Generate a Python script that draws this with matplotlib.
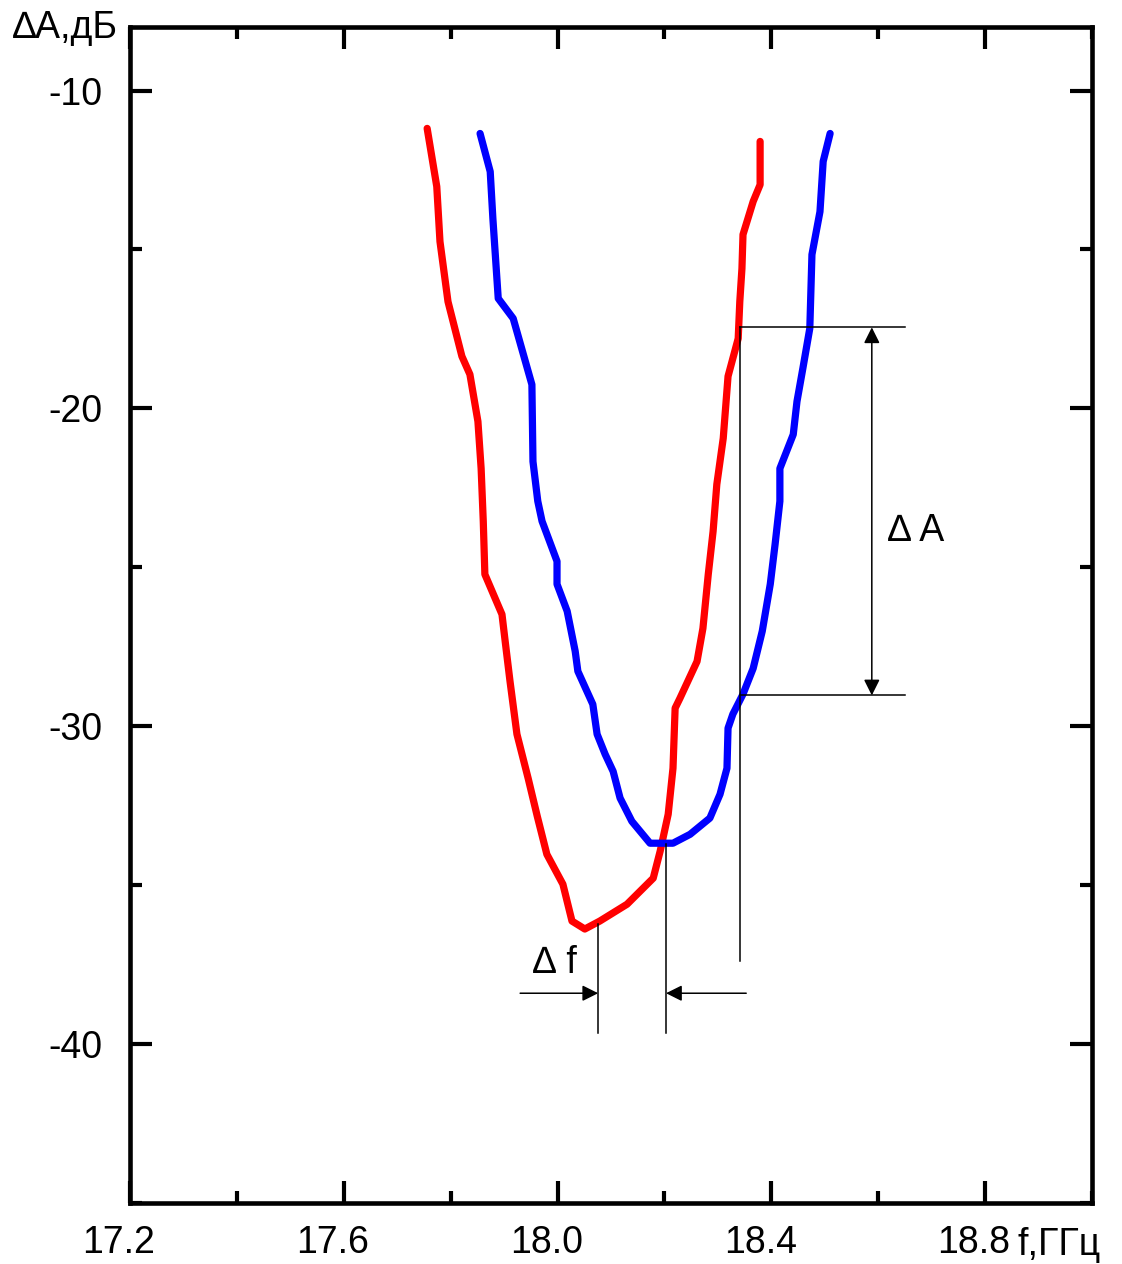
import numpy as np
import matplotlib.pyplot as plt
import matplotlib.transforms as mtransforms
from matplotlib.ticker import MultipleLocator

plt.rcParams['font.family'] = ['Liberation Sans', 'DejaVu Sans']

# red curve (f, GHz ; dA, dB)
red_f = [17.756, 17.774, 17.780, 17.795, 17.821, 17.836, 17.851, 17.857, 17.861, 17.864,
         17.896, 17.902, 17.911, 17.924, 17.945, 17.962, 17.980, 18.010, 18.027, 18.051,
         18.079, 18.130, 18.179, 18.192, 18.207, 18.216, 18.220, 18.229, 18.261, 18.272,
         18.282, 18.291, 18.298, 18.310, 18.319, 18.338, 18.341, 18.345, 18.347, 18.366,
         18.379, 18.379]
red_a = [-11.19, -13.02, -14.75, -16.64, -18.36, -18.93, -20.41, -21.89, -23.55, -25.22,
         -26.48, -27.33, -28.58, -30.25, -31.64, -32.83, -34.03, -34.97, -36.13, -36.38,
         -36.13, -35.60, -34.78, -33.93, -32.77, -31.32, -29.43, -29.12, -27.96, -26.92,
         -25.22, -23.87, -22.39, -20.94, -18.99, -17.80, -16.64, -15.60, -14.53, -13.49,
         -12.96, -11.60]

# blue curve
blue_f = [17.855, 17.874, 17.879, 17.889, 17.917, 17.952, 17.954, 17.963, 17.971, 17.999,
          17.999, 18.018, 18.033, 18.038, 18.066, 18.074, 18.089, 18.104, 18.117, 18.139,
          18.173, 18.216, 18.248, 18.285, 18.304, 18.317, 18.319, 18.328, 18.347, 18.366,
          18.383, 18.398, 18.407, 18.416, 18.416, 18.441, 18.448, 18.459, 18.472, 18.476,
          18.491, 18.497, 18.510]
blue_a = [-11.35, -12.55, -14.03, -16.54, -17.17, -19.25, -21.67, -22.92, -23.55, -24.81,
          -25.53, -26.38, -27.64, -28.27, -29.31, -30.25, -30.88, -31.42, -32.26, -32.99,
          -33.68, -33.68, -33.40, -32.89, -32.14, -31.32, -30.06, -29.62, -28.99, -28.18,
          -27.01, -25.53, -24.28, -22.92, -21.89, -20.82, -19.78, -18.74, -17.48, -15.16,
          -13.81, -12.23, -11.35]

# annotation geometry
dA_levels = [-17.45, -29.03]
dA_line_f = [18.341, 18.650]
dA_arrow_f = 18.588
dA_vline_bottom = -37.39
df_lines_f = [18.076, 18.203]
df_lines_top = [-36.23, -33.71]
df_lines_bottom = -39.65
df_arrow_a = -38.40
df_arrow_from = [17.930, 18.353]

FS = 27
W, H = 1122, 1264
fig = plt.figure(figsize=(W / 100, H / 100), dpi=100)
ax = fig.add_axes([130 / W, 1 - 1203 / H, (1092 - 130) / W, (1203 - 27) / H])

ax.plot(red_f, red_a, color='#ff0000', lw=5.2, solid_joinstyle='round', solid_capstyle='round')
ax.plot(blue_f, blue_a, color='#0000ff', lw=5.2, solid_joinstyle='round', solid_capstyle='round')

lk = dict(color='black', lw=1.1)
for lev in dA_levels:
    ax.plot(dA_line_f, [lev, lev], **lk)
ax.plot([dA_line_f[0], dA_line_f[0]], [dA_levels[0], dA_vline_bottom], **lk)
ax.annotate('', xy=(dA_arrow_f, dA_levels[1]), xytext=(dA_arrow_f, dA_levels[0]),
            arrowprops=dict(arrowstyle='<|-|>', color='black', lw=1.1,
                            mutation_scale=24, shrinkA=0, shrinkB=0))
ax.text(18.671, -23.87, '∆ A', fontsize=FS, ha='center', va='center')

for f, top in zip(df_lines_f, df_lines_top):
    ax.plot([f, f], [top, df_lines_bottom], **lk)
for start, end in zip(df_arrow_from, df_lines_f):
    ax.annotate('', xy=(end, df_arrow_a), xytext=(start, df_arrow_a),
                arrowprops=dict(arrowstyle='-|>', color='black', lw=1.1,
                                mutation_scale=24, shrinkA=0, shrinkB=0))
ax.text(17.995, -37.45, '∆ f', fontsize=FS, ha='center', va='center')

ax.set_xlim(17.2, 19.0)
ax.set_ylim(-45, -8)
ax.xaxis.set_minor_locator(MultipleLocator(0.2))
ax.yaxis.set_minor_locator(MultipleLocator(5))
ax.set_xticks([17.2, 17.6, 18.0, 18.4, 18.8])
ax.set_xticklabels(['17.2', '17.6', '18.0', '18.4', '18.8'])
ax.set_yticks([-40, -30, -20, -10])
ax.set_yticklabels(['-40', '-30', '-20', '-10'])

ax.tick_params(which='both', direction='in', top=True, right=True, width=3, labelsize=FS)
ax.tick_params(which='major', length=16)
ax.tick_params(which='minor', length=8.5)
ax.tick_params(axis='x', pad=16)
ax.tick_params(axis='y', pad=20)
for sp in ax.spines.values():
    sp.set_linewidth(3.3)

shift = mtransforms.ScaledTranslation(-11 / 100, 0, fig.dpi_scale_trans)
for lab in ax.get_xticklabels():
    lab.set_transform(lab.get_transform() + shift)

fig.text(118 / W, 1 - 38 / H, '∆A,дБ', fontsize=FS, ha='right', va='baseline')
fig.text(1017 / W, 1 - 1255 / H, 'f,ГГц', fontsize=FS, ha='left', va='baseline')

fig.savefig('out.png', dpi=100)
